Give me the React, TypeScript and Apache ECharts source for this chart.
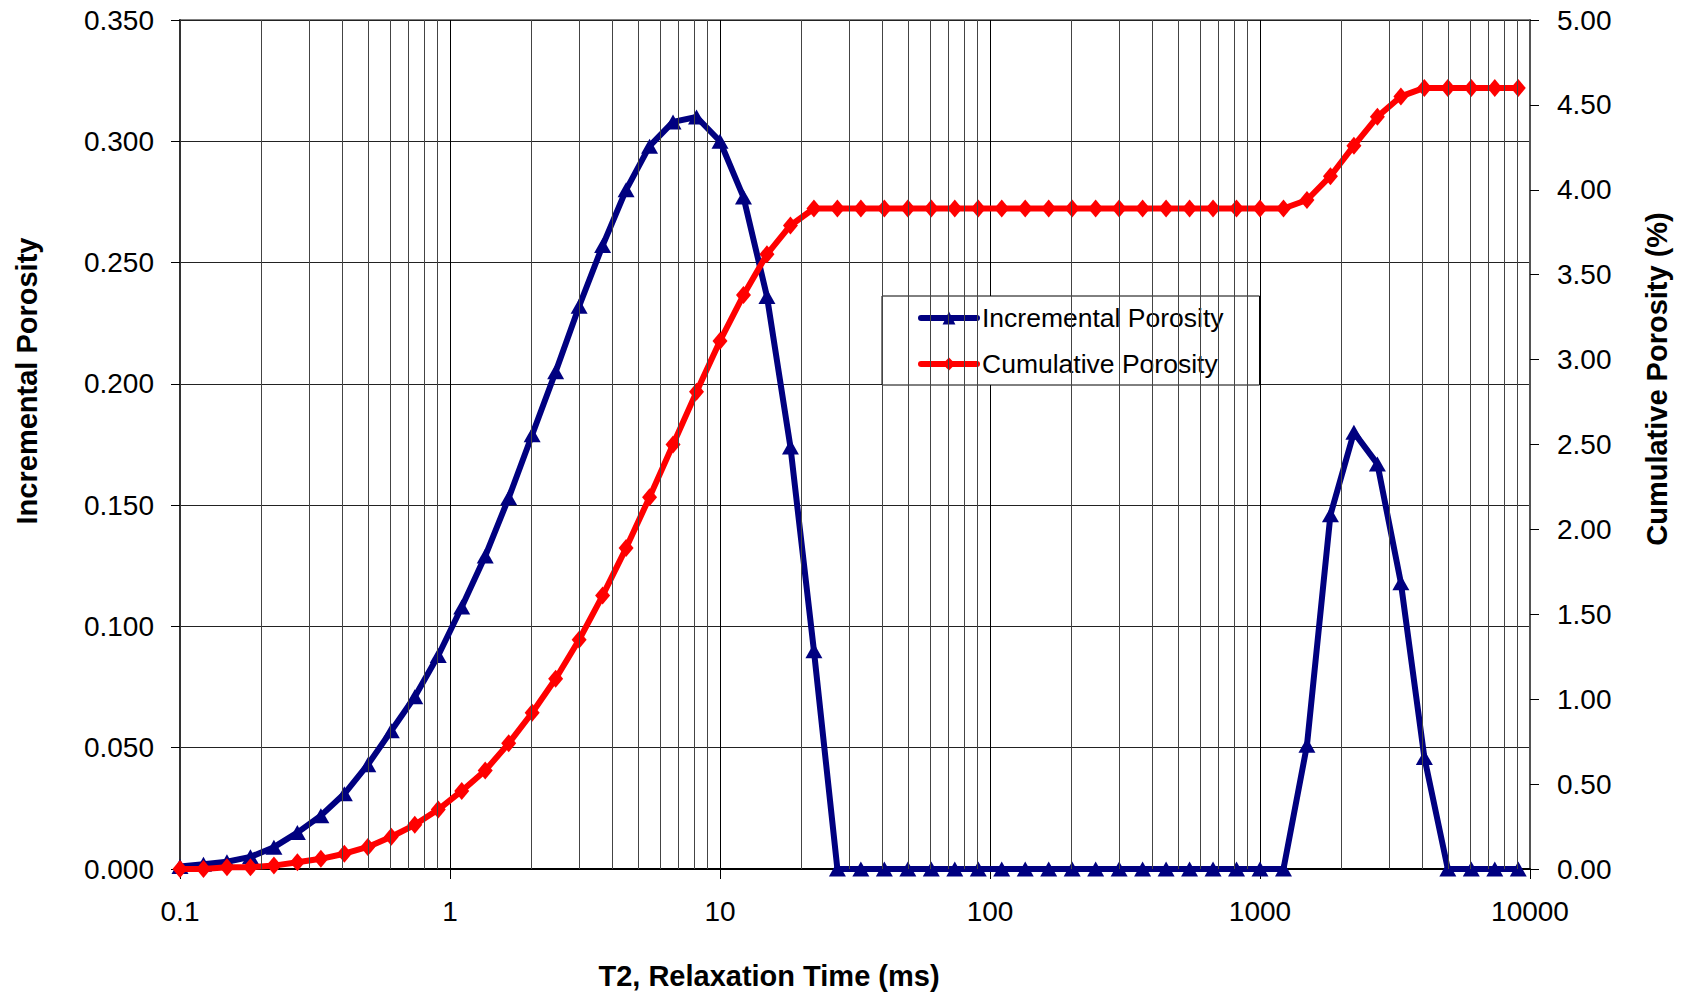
import React, { useEffect, useRef } from "react";
import * as echarts from "echarts";

// T2 relaxation time bins (ms)
const t2 = [
  0.1, 0.12217, 0.14925, 0.18234, 0.22275, 0.27213, 0.33246, 0.40616, 0.4962, 0.60619,
  0.74057, 0.90474, 1.1053, 1.3503, 1.6496, 2.0153, 2.4621, 3.0079, 3.6747, 4.4893,
  5.4844, 6.7002, 8.186, 10, 12.217, 14.925, 18.234, 22.275, 27.213, 33.246,
  40.616, 49.62, 60.619, 74.057, 90.474, 110.53, 135.03, 164.96, 201.53, 246.21,
  300.79, 367.47, 448.93, 548.44, 670.02, 818.6, 1000, 1221.7, 1492.5, 1823.4,
  2227.5, 2721.3, 3324.6, 4061.6, 4962.0, 6061.9, 7405.7, 9047.4,
];

const incremental = [
  0.001, 0.002, 0.003, 0.005, 0.009, 0.015, 0.022, 0.031, 0.043, 0.057,
  0.071, 0.088, 0.108, 0.129, 0.153, 0.179, 0.205, 0.232, 0.257, 0.28,
  0.298, 0.308, 0.31, 0.3, 0.277, 0.236, 0.174, 0.09, 0, 0,
  0, 0, 0, 0, 0, 0, 0, 0, 0, 0,
  0, 0, 0, 0, 0, 0, 0, 0, 0.051, 0.146,
  0.18, 0.167, 0.118, 0.046, 0, 0, 0, 0,
];

const cumulative = [
  0.0, 0.0, 0.01, 0.01, 0.02, 0.04, 0.06, 0.09, 0.13, 0.19,
  0.26, 0.35, 0.46, 0.58, 0.74, 0.92, 1.12, 1.35, 1.61, 1.89,
  2.19, 2.5, 2.81, 3.11, 3.38, 3.62, 3.79, 3.89, 3.89, 3.89,
  3.89, 3.89, 3.89, 3.89, 3.89, 3.89, 3.89, 3.89, 3.89, 3.89,
  3.89, 3.89, 3.89, 3.89, 3.89, 3.89, 3.89, 3.89, 3.94, 4.08,
  4.26, 4.43, 4.55, 4.6, 4.6, 4.6, 4.6, 4.6,
];

const xTickLabels = ["0.1", "1", "10", "100", "1000", "10000"];
const seriesNames = ["Incremental Porosity", "Cumulative Porosity"];

const FONT = "'Liberation Sans', Arial, Helvetica, sans-serif";

export default function App() {
  const ref = useRef<HTMLDivElement>(null);

  useEffect(() => {
    if (!ref.current) return;
    const chart = echarts.init(ref.current, null, { renderer: "svg" });

    const minorLines: { xAxis: number }[] = [];
    for (let d = 0.1; d < 5000; d *= 10) {
      for (let m = 2; m <= 9; m++) minorLines.push({ xAxis: m * d });
    }

    chart.setOption({
      animation: false,
      backgroundColor: "#fff",
      textStyle: { fontFamily: FONT },
      grid: {
        left: 180,
        right: 157,
        top: 20,
        bottom: 124,
        show: true,
        borderColor: "#808080",
        borderWidth: 2,
        backgroundColor: "#fff",
      },
      legend: {
        data: seriesNames,
        orient: "vertical",
        left: 882,
        top: 296,
        padding: [7, 36, 6, 36],
        itemWidth: 56,
        itemHeight: 16,
        itemGap: 16,
        backgroundColor: "#fff",
        borderColor: "#000",
        borderWidth: 1,
        borderRadius: 0,
        lineStyle: { width: 6, cap: "round" },
        textStyle: { fontSize: 26.5, color: "#000", fontFamily: FONT, lineHeight: 30 },
      },
      xAxis: {
        type: "log",
        logBase: 10,
        min: 0.1,
        max: 10000,
        axisLine: { show: true, onZero: false, lineStyle: { color: "#000", width: 2 } },
        axisTick: { show: true, inside: false, length: 10, lineStyle: { color: "#000", width: 1 } },
        axisLabel: {
          fontSize: 28,
          color: "#000",
          margin: 28,
          fontFamily: FONT,
          formatter: (v: number) => {
            const i = Math.round(Math.log10(v)) + 1;
            return xTickLabels[i] ?? String(v);
          },
        },
        splitLine: { show: true, lineStyle: { color: "#000", width: 1 } },
      },
      yAxis: [
        {
          type: "value",
          min: 0,
          max: 0.35,
          interval: 0.05,
          axisLine: { show: true, lineStyle: { color: "#333", width: 2 } },
          axisTick: { show: true, inside: false, length: 9, lineStyle: { color: "#000", width: 1 } },
          axisLabel: {
            fontSize: 28,
            color: "#000",
            margin: 26,
            fontFamily: FONT,
            formatter: (v: number) => v.toFixed(3),
          },
          splitLine: { show: true, lineStyle: { color: "#222", width: 1 } },
        },
        {
          type: "value",
          min: 0,
          max: 5,
          interval: 0.5,
          position: "right",
          axisLine: { show: true, lineStyle: { color: "#555", width: 2 } },
          axisTick: { show: true, inside: false, length: 9, lineStyle: { color: "#000", width: 1 } },
          axisLabel: {
            fontSize: 28,
            color: "#000",
            margin: 27,
            fontFamily: FONT,
            formatter: (v: number) => v.toFixed(2),
          },
          splitLine: { show: false },
        },
      ],
      series: [
        {
          name: "minor-grid",
          type: "line",
          data: [[0.1, 0]],
          symbol: "none",
          lineStyle: { opacity: 0 },
          silent: true,
          z: 1,
          markLine: {
            silent: true,
            symbol: ["none", "none"],
            label: { show: false },
            lineStyle: { color: "#444", width: 1, type: "solid" },
            emphasis: { disabled: true },
            data: minorLines,
          },
        },
        {
          name: seriesNames[0],
          type: "line",
          yAxisIndex: 0,
          data: t2.map((x, i) => [x, incremental[i]]),
          symbol: "triangle",
          symbolSize: [17, 15],
          clip: false,
          z: 3,
          itemStyle: { color: "#000080" },
          lineStyle: { color: "#000080", width: 6 },
        },
        {
          name: seriesNames[1],
          type: "line",
          yAxisIndex: 1,
          data: t2.map((x, i) => [x, cumulative[i]]),
          symbol: "diamond",
          symbolSize: [15, 18],
          clip: false,
          z: 4,
          itemStyle: { color: "#ff0000" },
          lineStyle: { color: "#ff0000", width: 6 },
        },
      ],
      graphic: [
        {
          type: "text",
          x: 27,
          y: 381,
          rotation: Math.PI / 2,
          style: {
            text: "Incremental Porosity",
            font: `bold 29px ${FONT}`,
            fill: "#000",
            align: "center",
            verticalAlign: "middle",
          },
        },
        {
          type: "text",
          x: 1657,
          y: 379,
          rotation: Math.PI / 2,
          style: {
            text: "Cumulative Porosity (%)",
            font: `bold 29px ${FONT}`,
            fill: "#000",
            align: "center",
            verticalAlign: "middle",
          },
        },
        {
          type: "text",
          x: 769,
          y: 976,
          style: {
            text: "T2, Relaxation Time (ms)",
            font: `bold 29px ${FONT}`,
            fill: "#000",
            align: "center",
            verticalAlign: "middle",
          },
        },
      ],
    });

    return () => chart.dispose();
  }, []);

  return (
    <div
      ref={ref}
      style={{ position: "fixed", left: 0, top: 0, width: 1687, height: 993, background: "#fff" }}
    />
  );
}
